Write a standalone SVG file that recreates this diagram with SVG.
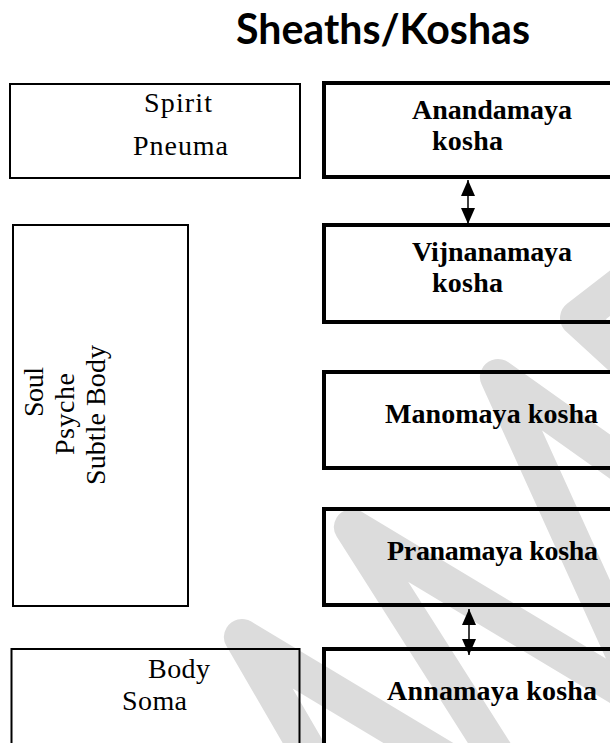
<svg xmlns="http://www.w3.org/2000/svg" width="610" height="743" viewBox="0 0 610 743">
<style>
.wm{fill:none;stroke:#dcdcdc;stroke-width:36;stroke-linecap:round;stroke-linejoin:round}
.lbox{fill:none;stroke:#000;stroke-width:2}
.rbox{fill:none;stroke:#000;stroke-width:4}
.t{font-family:"Liberation Serif","Times New Roman",serif;font-size:28px;fill:#000}
.b{font-family:"Liberation Serif","Times New Roman",serif;font-size:28px;font-weight:bold;fill:#000}
.ttl{font-family:Lato,"Open Sans",sans-serif;font-size:42px;font-weight:bold;fill:#000}
.conn{stroke:#000;stroke-width:1.5;fill:none}
</style>
<defs>
<marker id="ah" viewBox="0 0 16 14" refX="16" refY="7" markerWidth="16" markerHeight="14" markerUnits="userSpaceOnUse" orient="auto-start-reverse">
<path d="M0,0 L16,7 L0,14 Z" fill="#000"/>
</marker>
</defs>
<g id="watermark">
<path class="wm" d="M640 270 L578 318 L640 375"/>
<path class="wm" d="M650 485 L498 377 L640 690"/>
<path class="wm" d="M640 700 L352 527 L500 760"/>
<path class="wm" d="M460 768 L242 637 L318 768"/>
</g>
<text class="ttl" x="236" y="44" textLength="294" lengthAdjust="spacingAndGlyphs">Sheaths/Koshas</text>
<g id="spirit">
<rect class="lbox" x="10" y="84" width="290" height="94"/>
<text class="t" x="144" y="112" textLength="68">Spirit</text>
<text class="t" x="133" y="155" textLength="95">Pneuma</text>
</g>
<g id="soul">
<rect class="lbox" x="13" y="225" width="175" height="381"/>
<text class="t" transform="translate(43 417) rotate(-90)" textLength="50">Soul</text>
<text class="t" transform="translate(74 455) rotate(-90)" textLength="82">Psyche</text>
<text class="t" transform="translate(105 485) rotate(-90)" textLength="140">Subtle Body</text>
</g>
<g id="body">
<rect class="lbox" x="11.5" y="649" width="288" height="110"/>
<text class="t" x="148" y="678" textLength="62">Body</text>
<text class="t" x="122" y="710" textLength="65">Soma</text>
</g>
<g id="anandamaya">
<rect class="rbox" x="324" y="83" width="320" height="94"/>
<text class="b" x="412" y="119" textLength="160">Anandamaya</text>
<text class="b" x="432" y="150" textLength="71">kosha</text>
</g>
<g id="vijnanamaya">
<rect class="rbox" x="324" y="225" width="320" height="97"/>
<text class="b" x="412" y="261" textLength="160">Vijnanamaya</text>
<text class="b" x="432" y="292" textLength="71">kosha</text>
</g>
<g id="manomaya">
<rect class="rbox" x="324" y="372" width="320" height="96"/>
<text class="b" x="385" y="423" textLength="213">Manomaya kosha</text>
</g>
<g id="pranamaya">
<rect class="rbox" x="324" y="509" width="320" height="96"/>
<text class="b" x="387" y="560" textLength="211">Pranamaya kosha</text>
</g>
<g id="annamaya">
<rect class="rbox" x="324" y="649" width="320" height="110"/>
<text class="b" x="387" y="700" textLength="210">Annamaya kosha</text>
</g>
<g id="connectors">
<line class="conn" x1="468" y1="180" x2="468" y2="224" marker-start="url(#ah)" marker-end="url(#ah)"/>
<line class="conn" x1="469" y1="609" x2="469" y2="655" marker-start="url(#ah)" marker-end="url(#ah)"/>
</g>
</svg>
